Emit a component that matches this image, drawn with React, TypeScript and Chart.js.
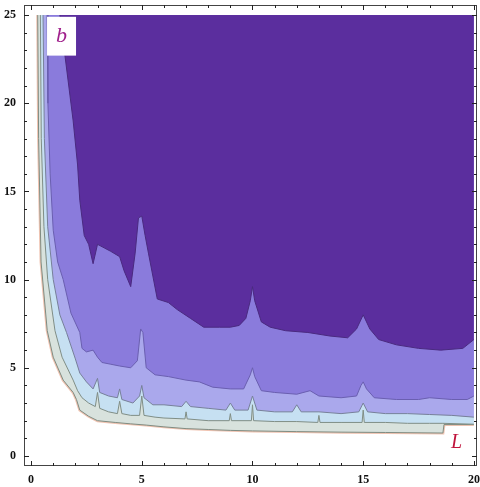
import React, { useEffect, useRef } from "react";
import { Chart, registerables } from "chart.js";

Chart.register(...registerables);

// axis ranges and ticks
const xRange = [-0.32, 20.14];
const yRange = [-0.57, 25.57];
const xTickValues = [0, 1, 2, 3, 4, 5, 6, 7, 8, 9, 10, 11, 12, 13, 14, 15, 16, 17, 18, 19, 20];
const yTickValues = [0, 1, 2, 3, 4, 5, 6, 7, 8, 9, 10, 11, 12, 13, 14, 15, 16, 17, 18, 19, 20, 21, 22, 23, 24, 25];
const labelledTicks = [0, 5, 10, 15, 20, 25];
const plotTop = 25;

// contour boundaries [L, b] (lower edge of each band)
const bottomEdge: [number, number][] = [
  [0.3, 25], [0.34, 18], [0.45, 11], [0.73, 7.1], [1.0, 5.6], [1.45, 4.3], [1.9, 3.6], [2.05, 3.2],
  [2.2, 2.6], [2.6, 2.25], [3.0, 2.0], [3.8, 1.9], [4.5, 1.82], [5.2, 1.75], [6, 1.65], [7, 1.55],
  [8, 1.5], [9, 1.45], [10, 1.42], [12, 1.38], [14, 1.35], [16, 1.33], [18.6, 1.3], [18.65, 1.78], [20, 1.78],
];
const cyanEdge: [number, number][] = [
  [0.42, 25], [0.46, 18], [0.58, 13], [0.75, 10], [1.08, 7.1], [1.4, 5.6], [1.9, 4.3], [2.1, 3.7],
  [2.3, 3.3], [2.6, 3.0], [2.9, 2.8], [3.0, 3.6], [3.1, 2.7], [3.5, 2.5], [3.9, 2.4], [4.0, 3.1],
  [4.1, 2.4], [4.5, 2.3], [4.9, 2.3], [5.0, 3.4], [5.1, 2.3], [5.6, 2.2], [6, 2.15], [6.95, 2.1],
  [7.0, 2.5], [7.05, 2.1], [8, 2.0], [8.95, 2.0], [9.0, 2.4], [9.05, 2.0], [9.95, 2.0], [10.0, 2.9],
  [10.05, 2.0], [11, 1.95], [12, 1.95], [12.95, 1.9], [13.0, 2.3], [13.05, 1.9], [14, 1.9], [14.95, 1.9],
  [15.0, 2.6], [15.05, 1.9], [16, 1.9], [17, 1.85], [18, 1.85], [18.6, 1.85], [20, 1.8],
];
const lavenderEdge: [number, number][] = [
  [0.54, 25], [0.6, 18], [0.75, 13], [1.0, 10], [1.3, 8], [1.6, 7.0], [2.0, 5.5], [2.2, 4.7],
  [2.5, 4.2], [2.8, 3.8], [3.0, 4.4], [3.1, 3.6], [3.5, 3.4], [3.9, 3.3], [4.0, 3.8], [4.1, 3.2],
  [4.6, 3.0], [4.9, 3.4], [5.0, 4.0], [5.1, 3.3], [5.5, 2.9], [6.0, 2.9], [6.8, 2.8], [7.0, 3.1],
  [7.2, 2.8], [8, 2.7], [8.8, 2.6], [9.0, 3.0], [9.2, 2.6], [9.8, 2.6], [10, 3.4], [10.2, 2.6],
  [11, 2.5], [11.8, 2.5], [12, 2.9], [12.2, 2.5], [13, 2.5], [14, 2.4], [14.8, 2.5], [15, 3.0],
  [15.2, 2.5], [16, 2.4], [17, 2.4], [18, 2.35], [19, 2.3], [20, 2.2],
];
const mediumEdge: [number, number][] = [
  [0.72, 25], [0.76, 20], [0.86, 16], [1.0, 12.8], [1.2, 11], [1.45, 10], [1.8, 8.1], [2.2, 7.0],
  [2.3, 6.1], [2.5, 5.9], [2.8, 6.0], [3.0, 5.6], [3.2, 5.3], [3.6, 5.2], [4.0, 5.1], [4.5, 5.0],
  [4.8, 5.4], [4.95, 7.2], [5.05, 7.0], [5.2, 5.0], [5.6, 4.6], [6.2, 4.5], [7.0, 4.3], [7.6, 4.2],
  [8.2, 3.9], [9.0, 3.8], [9.6, 3.8], [9.9, 4.6], [10.0, 5.0], [10.1, 4.5], [10.4, 3.7], [11, 3.6],
  [12, 3.5], [12.6, 3.7], [13, 3.4], [14, 3.3], [14.7, 3.4], [14.9, 4.0], [15.0, 4.2], [15.15, 3.8],
  [15.5, 3.3], [16.5, 3.2], [17.5, 3.2], [18, 3.3], [19, 3.2], [19.7, 3.2], [20, 3.4],
];
const darkEdge: [number, number][] = [
  [1.3, 25], [1.6, 22], [1.9, 19], [2.1, 16.5], [2.2, 14.5], [2.4, 12.5], [2.6, 12.0], [2.8, 10.9],
  [3.0, 12.0], [3.3, 11.8], [3.6, 11.6], [4.0, 11.3], [4.2, 10.5], [4.5, 9.6], [4.7, 11.5], [4.85, 13.5],
  [5.0, 13.6], [5.15, 12.5], [5.3, 11.5], [5.5, 10.2], [5.7, 8.9], [6.2, 8.7], [6.6, 8.3], [7.2, 7.8],
  [7.8, 7.3], [8.5, 7.3], [9.0, 7.3], [9.4, 7.4], [9.7, 7.8], [9.9, 8.8], [10.0, 9.6], [10.1, 8.8],
  [10.4, 7.6], [10.8, 7.3], [11.5, 7.1], [12.5, 7.0], [13.5, 6.8], [14.3, 6.7], [14.7, 7.2], [15.0, 8.0],
  [15.3, 7.2], [15.7, 6.6], [16.5, 6.3], [17.5, 6.1], [18.5, 6.0], [19.5, 6.1], [20, 6.6],
];

const toPts = (a: [number, number][]) => a.map(([x, y]) => ({ x, y }));

export default function App() {
  const ref = useRef<HTMLCanvasElement | null>(null);

  useEffect(() => {
    if (!ref.current) return;
    const band = (data: [number, number][], fillColor: string, lineColor: string, order: number) => ({
      data: toPts(data),
      fill: { value: plotTop },
      backgroundColor: fillColor,
      borderColor: lineColor,
      borderWidth: 1,
      pointRadius: 0,
      tension: 0,
      order,
    });

    const framePlugin = {
      id: "frame",
      afterDatasetsDraw(chart: any) {
        const { ctx, chartArea: a, scales } = chart;
        const xs = scales.x, ys = scales.y;
        ctx.save();
        // "b" label box
        const bx0 = xs.getPixelForValue(0.72), bx1 = xs.getPixelForValue(2.03);
        const by0 = ys.getPixelForValue(24.9), by1 = ys.getPixelForValue(22.7);
        ctx.fillStyle = "#ffffff";
        ctx.fillRect(bx0, by0, bx1 - bx0, by1 - by0);
        ctx.fillStyle = "#a0208c";
        ctx.font = 'italic 22px "Liberation Serif"';
        ctx.textAlign = "center";
        ctx.textBaseline = "middle";
        ctx.fillText("b", (bx0 + bx1) / 2, (by0 + by1) / 2);
        ctx.fillStyle = "#c0143c";
        ctx.font = 'italic 20px "Liberation Serif"';
        ctx.fillText("L", xs.getPixelForValue(19.22), ys.getPixelForValue(0.75));
        // frame
        ctx.strokeStyle = "#444";
        ctx.lineWidth = 1;
        ctx.strokeRect(a.left + 0.5, a.top + 0.5, a.right - a.left - 1, a.bottom - a.top - 1);
        // inward ticks
        ctx.strokeStyle = "#222";
        ctx.beginPath();
        xTickValues.forEach((v) => {
          const px = Math.round(xs.getPixelForValue(v)) + 0.5;
          const len = labelledTicks.includes(v) ? 5 : 3;
          ctx.moveTo(px, a.bottom); ctx.lineTo(px, a.bottom - len);
          ctx.moveTo(px, a.top); ctx.lineTo(px, a.top + len);
        });
        yTickValues.forEach((v) => {
          const py = Math.round(ys.getPixelForValue(v)) + 0.5;
          const len = labelledTicks.includes(v) ? 5 : 3;
          ctx.moveTo(a.left, py); ctx.lineTo(a.left + len, py);
          ctx.moveTo(a.right, py); ctx.lineTo(a.right - len, py);
        });
        ctx.stroke();
        ctx.restore();
      },
    };

    const chart = new Chart(ref.current, {
      type: "line",
      data: {
        datasets: [
          { data: toPts(bottomEdge), fill: false, borderColor: "rgba(238,190,170,0.9)", borderWidth: 3, pointRadius: 0, tension: 0, order: 7 },
          band(bottomEdge, "#d8e2dd", "#7f8c82", 6),
          band(cyanEdge, "#c6e0f2", "#808e86", 5),
          band(lavenderEdge, "#aaa8ec", "#77809a", 4),
          band(mediumEdge, "#8a7bdc", "#6a5fb0", 3),
          band(darkEdge, "#5b2e9e", "#4a2a80", 2),
        ] as any,
      },
      options: {
        animation: false,
        responsive: false,
        devicePixelRatio: 1,
        layout: { padding: { left: 0, top: 5, right: 3, bottom: 0 } },
        plugins: { legend: { display: false }, tooltip: { enabled: false } },
        scales: {
          x: {
            type: "linear",
            min: xRange[0],
            max: xRange[1],
            afterBuildTicks: (s: any) => { s.ticks = xTickValues.map((v) => ({ value: v })); },
            afterFit: (s: any) => { s.height = 21; s.paddingLeft = 0; s.paddingRight = 0; },
            grid: { display: false, drawTicks: false },
            border: { display: false },
            ticks: {
              autoSkip: false,
              maxRotation: 0,
              padding: 7,
              color: "#111",
              font: { family: '"Liberation Serif"', size: 12, weight: "bold" },
              callback: (v: any) => (labelledTicks.includes(Number(v)) ? String(v) : ""),
            },
          },
          y: {
            type: "linear",
            min: yRange[0],
            max: yRange[1],
            afterBuildTicks: (s: any) => { s.ticks = yTickValues.map((v) => ({ value: v })); },
            afterFit: (s: any) => { s.width = 24; s.paddingTop = 0; s.paddingBottom = 0; },
            grid: { display: false, drawTicks: false },
            border: { display: false },
            ticks: {
              autoSkip: false,
              padding: 8,
              color: "#111",
              font: { family: '"Liberation Serif"', size: 12, weight: "bold" },
              callback: (v: any) => (labelledTicks.includes(Number(v)) ? String(v) : ""),
            },
          },
        },
      } as any,
      plugins: [framePlugin],
    });
    return () => chart.destroy();
  }, []);

  return (
    <canvas
      ref={ref}
      width={480}
      height={487}
      style={{ position: "absolute", left: 0, top: 0, width: 480, height: 487, display: "block" }}
    />
  );
}
